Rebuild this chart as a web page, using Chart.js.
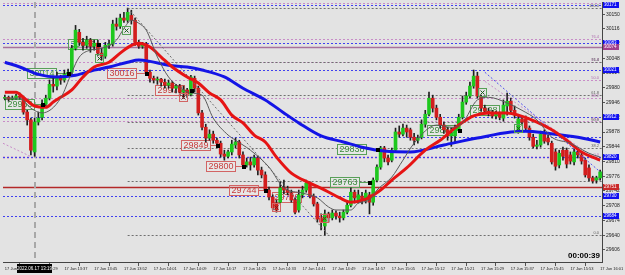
<!DOCTYPE html>
<html>
<head>
<meta charset="utf-8">
<script src="https://cdn.jsdelivr.net/npm/chart.js@4.4.1/dist/chart.umd.min.js"></script>
<style>
  html, body { margin: 0; padding: 0; background: #e3e3e3; }
  #wrap { width: 625px; height: 275px; }
</style>
</head>
<body>
<div id="wrap"><canvas id="c" width="625" height="275"></canvas></div>
<script>
// 1-minute candles
const open = [
  29956, 29958, 29954, 29956, 29961, 29958, 29924, 29906, 29832, 29901,
  29912, 29942, 29956, 29988, 29984, 30005, 29998, 30011, 30016, 30071,
  30108, 30085, 30078, 30090, 30076, 30083, 30060, 30053, 30078, 30081,
  30127, 30122, 30141, 30136, 30147, 30136, 30085, 30076, 30081, 30016,
  30002, 29998, 30000, 29993, 29986, 29991, 29979, 29984, 29970, 29975,
  29965, 30002, 29979, 29922, 29889, 29864, 29873, 29859, 29852, 29827,
  29822, 29832, 29848, 29855, 29825, 29802, 29809, 29802, 29818, 29790,
  29779, 29744, 29728, 29714, 29716, 29749, 29744, 29737, 29721, 29698,
  29733, 29744, 29760, 29730, 29712, 29680, 29661, 29689, 29680, 29691,
  29684, 29680, 29693, 29709, 29739, 29721, 29730, 29721, 29733, 29716,
  29767, 29797, 29841, 29818, 29813, 29836, 29878, 29873, 29887, 29883,
  29866, 29859, 29866, 29896, 29919, 29956, 29933, 29912, 29894, 29883,
  29869, 29869, 29883, 29912, 29947, 29961, 29984, 30007, 29958, 29933,
  29926, 29922, 29915, 29919, 29910, 29938, 29949, 29928, 29883, 29908,
  29908, 29887, 29866, 29845, 29848, 29873, 29864, 29852, 29832, 29802,
  29836, 29836, 29825, 29809, 29832, 29825, 29813, 29795, 29772, 29767,
  29772
];
const high = [
  29963, 29961, 29961, 29965, 29968, 29961, 29928, 29910, 29910, 29924,
  29952, 29963, 29998, 30002, 30016, 30009, 30021, 30023, 30078, 30124,
  30115, 30094, 30099, 30094, 30090, 30090, 30071, 30085, 30090, 30136,
  30141, 30150, 30154, 30164, 30159, 30141, 30090, 30085, 30085, 30021,
  30007, 30005, 30002, 30000, 29998, 29995, 29988, 29988, 29984, 29979,
  30009, 30007, 29984, 29928, 29896, 29883, 29880, 29864, 29857, 29836,
  29836, 29859, 29864, 29859, 29832, 29818, 29820, 29825, 29822, 29797,
  29786, 29751, 29733, 29721, 29763, 29767, 29753, 29744, 29726, 29744,
  29753, 29767, 29763, 29735, 29716, 29689, 29698, 29693, 29698, 29696,
  29693, 29698, 29716, 29749, 29744, 29744, 29739, 29744, 29739, 29772,
  29802, 29845, 29845, 29825, 29841, 29887, 29892, 29896, 29894, 29887,
  29875, 29871, 29906, 29928, 29970, 29963, 29940, 29919, 29901, 29889,
  29887, 29894, 29919, 29961, 29970, 29993, 30021, 30016, 29963, 29940,
  29933, 29928, 29926, 29924, 29952, 29968, 29956, 29938, 29915, 29912,
  29915, 29892, 29873, 29859, 29880, 29883, 29871, 29857, 29839, 29836,
  29843, 29841, 29832, 29839, 29839, 29832, 29818, 29802, 29776, 29776,
  29790
];
const low = [
  29952, 29949, 29952, 29954, 29954, 29919, 29894, 29825, 29822, 29894,
  29906, 29935, 29952, 29970, 29975, 29988, 29993, 30007, 30009, 30067,
  30078, 30067, 30071, 30062, 30067, 30055, 30044, 30048, 30071, 30076,
  30113, 30117, 30131, 30131, 30127, 30078, 30071, 30071, 30011, 29993,
  29991, 29988, 29984, 29979, 29979, 29970, 29968, 29961, 29956, 29958,
  29961, 29970, 29917, 29883, 29855, 29859, 29852, 29845, 29820, 29813,
  29818, 29825, 29841, 29818, 29795, 29797, 29790, 29797, 29779, 29772,
  29739, 29721, 29698, 29693, 29712, 29735, 29733, 29716, 29689, 29693,
  29726, 29739, 29726, 29707, 29670, 29652, 29640, 29670, 29675, 29677,
  29670, 29675, 29689, 29705, 29714, 29714, 29712, 29714, 29689, 29709,
  29763, 29792, 29809, 29802, 29809, 29832, 29866, 29869, 29866, 29859,
  29848, 29852, 29862, 29889, 29915, 29924, 29906, 29887, 29875, 29859,
  29845, 29852, 29878, 29908, 29942, 29956, 29979, 29956, 29926, 29922,
  29915, 29910, 29908, 29906, 29903, 29917, 29924, 29910, 29875, 29894,
  29883, 29859, 29841, 29839, 29843, 29852, 29848, 29804, 29790, 29795,
  29813, 29795, 29804, 29802, 29818, 29804, 29774, 29765, 29760, 29760,
  29767
];
const close = [
  29958, 29954, 29956, 29961, 29958, 29924, 29906, 29836, 29901, 29910,
  29942, 29956, 29988, 29984, 30005, 29998, 30011, 30016, 30071, 30113,
  30085, 30078, 30090, 30076, 30083, 30060, 30053, 30078, 30081, 30127,
  30122, 30141, 30136, 30154, 30136, 30085, 30076, 30081, 30016, 30002,
  29998, 30000, 29993, 29986, 29991, 29979, 29984, 29970, 29975, 29965,
  30005, 29979, 29922, 29889, 29864, 29873, 29859, 29852, 29827, 29822,
  29832, 29850, 29855, 29825, 29802, 29809, 29802, 29818, 29790, 29779,
  29744, 29728, 29703, 29698, 29749, 29744, 29739, 29721, 29693, 29733,
  29744, 29760, 29730, 29712, 29677, 29670, 29689, 29680, 29691, 29684,
  29680, 29693, 29709, 29739, 29726, 29733, 29721, 29737, 29716, 29767,
  29797, 29841, 29818, 29809, 29836, 29878, 29873, 29887, 29878, 29866,
  29859, 29864, 29896, 29919, 29956, 29933, 29912, 29894, 29883, 29869,
  29875, 29887, 29912, 29947, 29961, 29984, 30007, 29961, 29933, 29926,
  29922, 29915, 29919, 29912, 29940, 29949, 29928, 29917, 29908, 29901,
  29887, 29866, 29845, 29848, 29873, 29857, 29855, 29809, 29799, 29829,
  29822, 29804, 29811, 29832, 29825, 29811, 29779, 29772, 29765, 29772,
  29786
];

// moving averages as [bar, price]
const blueMA = [
  [0, 30039], [4, 30028], [9, 30011], [14, 30005], [19, 30009], [24, 30021],
  [28, 30028], [33, 30039], [36, 30044], [39, 30041], [44, 30032], [49, 30028],
  [53, 30021], [59, 30005], [64, 29979], [70, 29952], [75, 29922], [79, 29899],
  [85, 29869], [91, 29855], [96, 29843], [102, 29834], [109, 29832], [118, 29848],
  [127, 29864], [136, 29878], [140, 29880], [146, 29875], [154, 29866], [160, 29855]
];
const redMA = [
  [0, 29970], [3, 29970], [5, 29958], [8, 29938], [11, 29935], [13, 29947],
  [15, 29958], [18, 29975], [21, 30005], [24, 30028], [28, 30039], [31, 30060],
  [34, 30078], [36, 30083], [39, 30074], [42, 30051], [45, 30028], [49, 30005],
  [52, 29991], [55, 29968], [58, 29952], [61, 29917], [64, 29899], [67, 29871],
  [70, 29855], [73, 29820], [77, 29783], [82, 29760], [86, 29744], [90, 29726],
  [93, 29716], [97, 29723], [101, 29744], [104, 29767], [108, 29795], [113, 29836],
  [117, 29859], [122, 29894], [126, 29915], [130, 29922], [135, 29922], [138, 29917],
  [143, 29901], [147, 29883], [151, 29859], [155, 29832], [160, 29813]
];
const grayMA = [
  [0, 29956], [4, 29956], [7, 29933], [10, 29922], [15, 29956], [18, 30016],
  [20, 30051], [23, 30067], [26, 30071], [30, 30090], [32, 30117], [34, 30136],
  [36, 30129], [38, 30113], [41, 30051], [44, 30005], [48, 29975], [50, 29968],
  [53, 29963], [56, 29910], [60, 29871], [62, 29859], [66, 29836], [71, 29797],
  [75, 29749], [80, 29737], [84, 29726], [87, 29705], [89, 29698], [93, 29698],
  [95, 29714], [98, 29721], [100, 29744], [104, 29774], [107, 29813], [110, 29852],
  [116, 29894], [120, 29889], [123, 29899], [127, 29952], [130, 29958], [135, 29945],
  [139, 29928], [143, 29906], [147, 29866], [152, 29852], [157, 29829], [160, 29820]
];

// trend lines [bar, price]
const grayTrend = [[33, 30164], [87, 29640]];
const blueTrend = [[129, 30016], [160, 29786]];
const pinkTrendLeft = [[-0.5, 29852], [7.3, 29820]];
const pinkTrendRight = [[129, 29995], [160, 29809]];

// levels
const blueLevels = [30171, 30083, 30021, 29912, 29866, 29820, 29730, 29684];
const purpleLevel = 30074;
const redLevel = 29751;
const grayFibStart = 33;
const grayFib = [[0, 29640], [23.6, 29764], [38.2, 29840], [50, 29902], [61.8, 29964], [76.4, 30040], [100, 30164]];
const pinkFib = [[0, 29820], [23.6, 29904], [38.2, 29956], [50, 29998], [61.8, 30040], [76.4, 30092], [100, 30176]];

// axis
const yTicks = [29606, 29640, 29674, 29708, 29742, 29776, 29810, 29844, 29878, 29912, 29946, 29980, 30014, 30048, 30082, 30116, 30150];
const tickBars = [0, 8, 16, 24, 32, 40, 48, 56, 64, 72, 80, 88, 96, 104, 112, 120, 128, 136, 144, 152, 160];
const tickLabels = [
  "17 Jun 13:21", "17 Jun 13:29", "17 Jun 13:37", "17 Jun 13:45", "17 Jun 13:52", "17 Jun 14:01",
  "17 Jun 14:09", "17 Jun 14:17", "17 Jun 14:25", "17 Jun 14:33", "17 Jun 14:41", "17 Jun 14:49",
  "17 Jun 14:57", "17 Jun 15:05", "17 Jun 15:12", "17 Jun 15:21", "17 Jun 15:29", "17 Jun 15:37",
  "17 Jun 15:45", "17 Jun 15:53", "17 Jun 16:01"
];
const crossBar = 8.1;
const crossLabel = "2022.06.17 13:19";
const countdown = "00:00:39";

// trade tags on the chart
const tags = [
  { bar: 0, price: 29942, text: "29953", side: "buy", dot: 10 },
  { bar: 6, price: 30014, text: "30014", side: "buy", dot: 17 },
  { bar: 17, price: 30081, text: "30083", side: "buy", dot: 25 },
  { bar: 27.5, price: 30015, text: "30016", side: "sell", dot: 38 },
  { bar: 40.4, price: 29975, text: "29975", side: "sell", dot: 50 },
  { bar: 47.3, price: 29849, text: "29849", side: "sell", dot: 57 },
  { bar: 54, price: 29800, text: "29800", side: "sell", dot: 64 },
  { bar: 60.3, price: 29744, text: "29744", side: "sell", dot: 70 },
  { bar: 71.8, price: 29728, text: "29729", side: "sell" },
  { bar: 87.4, price: 29763, text: "29763", side: "buy", dot: 98 },
  { bar: 89.3, price: 29838, text: "29838", side: "buy", dot: 100 },
  { bar: 113.5, price: 29882, text: "29882", side: "buy", dot: 122 },
  { bar: 125, price: 29928, text: "29928", side: "buy" }
];
const crosses = [
  { bar: 32.6, price: 30113, side: "buy" },
  { bar: 25.3, price: 30048, side: "buy" },
  { bar: 128.3, price: 29970, side: "buy" },
  { bar: 138, price: 29887, side: "buy" },
  { bar: 72.9, price: 29705, side: "sell" },
  { bar: 47.9, price: 29959, side: "sell" },
  { bar: 85.8, price: 29680, side: "sell" }
];
const axisTags = [
  { price: 30171, color: "#1010f0" }, { price: 30083, color: "#1010f0" },
  { price: 30074, color: "#a0408c" }, { price: 30021, color: "#1010f0" },
  { price: 29912, color: "#1010f0" }, { price: 29820, color: "#1010f0" },
  { price: 29751, color: "#c82828" }, { price: 29730, color: "#1010f0" },
  { price: 29684, color: "#1010f0" }
];

const tagStyle = {
  buy: { line: "#58a058", text: "#3c8c3c" },
  sell: { line: "#d26464", text: "#c83c3c" }
};

const bars = open.map((_, i) => i);
const toPoints = arr => arr.map(([x, y]) => ({ x, y }));
const tickText = {};
tickBars.forEach((b, i) => { tickText[b] = tickLabels[i]; });

const overlay = {
  id: "overlay",
  beforeDatasetsDraw(chart) {
    const { ctx, chartArea: a, scales: { x, y } } = chart;
    const X = v => x.getPixelForValue(v);
    const Y = v => Math.round(y.getPixelForValue(v)) + 0.5;
    ctx.save();
    ctx.beginPath();
    ctx.rect(a.left, a.top, a.width, a.height);
    ctx.clip();

    const hline = (p, color, w, dash, from) => {
      ctx.beginPath();
      ctx.strokeStyle = color;
      ctx.lineWidth = w;
      ctx.setLineDash(dash);
      ctx.moveTo(from === undefined ? a.left : X(from), Y(p));
      ctx.lineTo(a.right, Y(p));
      ctx.stroke();
    };
    pinkFib.forEach(([r, p]) => hline(p, "#c88cc8", r === 0 ? 2 : 1, [2, 2]));
    grayFib.forEach(([r, p]) => hline(p, "#707070", 1, [2, 2], grayFibStart));
    blueLevels.forEach(p => hline(p, "#4040f0", 1, [2, 2]));
    hline(purpleLevel, "#a8709c", 1.5, []);
    hline(redLevel, "#b42828", 1.5, []);

    // crosshair
    ctx.setLineDash([6, 4]);
    ctx.strokeStyle = "#a8a8a8";
    ctx.lineWidth = 2;
    ctx.beginPath();
    ctx.moveTo(Math.round(X(crossBar)), a.top);
    ctx.lineTo(Math.round(X(crossBar)), a.bottom);
    ctx.stroke();
    ctx.setLineDash([]);

    // fib ratio labels
    ctx.font = '4px "Liberation Sans"';
    ctx.textAlign = "right";
    ctx.textBaseline = "bottom";
    pinkFib.forEach(([r, p]) => {
      ctx.fillStyle = "#b070b0";
      ctx.fillText(r.toFixed(1), a.right - 3, Y(p) - 1);
    });
    grayFib.forEach(([r, p]) => {
      ctx.fillStyle = "#606060";
      ctx.fillText(r.toFixed(1), a.right - 3, Y(p) - 1);
    });

    // trade tags
    ctx.font = '9px "Liberation Sans"';
    tags.forEach(t => {
      const st = tagStyle[t.side];
      const w = Math.round(ctx.measureText(t.text).width) + 4, h = 10;
      const x0 = Math.round(X(t.bar)) + 0.5;
      const yc = y.getPixelForValue(t.price);
      const y0 = Math.round(yc - h / 2) + 0.5;
      ctx.lineWidth = 1;
      ctx.strokeStyle = st.line;
      if (t.dot !== undefined) {
        ctx.beginPath();
        ctx.moveTo(x0 + w, Math.round(yc) + 0.5);
        ctx.lineTo(X(t.dot), Math.round(yc) + 0.5);
        ctx.stroke();
      }
      ctx.fillStyle = "rgba(255,255,255,0.15)";
      ctx.fillRect(x0, y0, w, h);
      ctx.strokeRect(x0, y0, w, h);
      ctx.fillStyle = st.text;
      ctx.textAlign = "left";
      ctx.textBaseline = "middle";
      ctx.fillText(t.text, x0 + 2, y0 + h / 2 + 0.5);
    });
    ctx.restore();
  },
  afterDatasetsDraw(chart) {
    const { ctx, chartArea: a, scales: { x, y } } = chart;
    ctx.save();
    ctx.beginPath();
    ctx.rect(a.left, a.top, a.width, a.height);
    ctx.clip();
    ctx.fillStyle = "#000";
    tags.forEach(t => {
      if (t.dot === undefined) return;
      ctx.fillRect(Math.round(x.getPixelForValue(t.dot)) - 1, Math.round(y.getPixelForValue(t.price)) - 1, 4, 4);
    });
    crosses.forEach(c => {
      const st = tagStyle[c.side];
      const cx = Math.round(x.getPixelForValue(c.bar)) + 0.5;
      const cy = Math.round(y.getPixelForValue(c.price)) + 0.5;
      ctx.strokeStyle = st.line;
      ctx.lineWidth = 1;
      ctx.strokeRect(cx - 4, cy - 4, 8, 8);
      ctx.strokeStyle = "#1e5a1e";
      if (c.side === "sell") ctx.strokeStyle = "#7a1e1e";
      ctx.beginPath();
      ctx.moveTo(cx - 2, cy - 2); ctx.lineTo(cx + 2, cy + 2);
      ctx.moveTo(cx + 2, cy - 2); ctx.lineTo(cx - 2, cy + 2);
      ctx.stroke();
    });
    ctx.restore();
  },
  afterDraw(chart) {
    const { ctx, chartArea: a, scales: { x, y } } = chart;
    ctx.save();
    // price tags on the axis
    ctx.font = '4.5px "Liberation Sans"';
    ctx.textAlign = "left";
    ctx.textBaseline = "middle";
    axisTags.forEach(t => {
      const yy = Math.round(y.getPixelForValue(t.price));
      ctx.fillStyle = t.color;
      ctx.fillRect(a.right + 1, yy - 3, 16, 6);
      ctx.fillStyle = "#fff";
      ctx.fillText(String(t.price), a.right + 2, yy);
    });
    // crosshair time box
    const cx = Math.round(x.getPixelForValue(crossBar));
    ctx.fillStyle = "#000";
    ctx.fillRect(cx - 18, a.bottom + 2, 35, 9);
    ctx.fillStyle = "#fff";
    ctx.textAlign = "center";
    ctx.font = '4.5px "Liberation Sans"';
    ctx.fillText(crossLabel, cx - 0.5, a.bottom + 6.5);
    // bar countdown
    ctx.font = 'bold 8px "Liberation Sans"';
    ctx.fillStyle = "#000";
    ctx.textAlign = "right";
    ctx.textBaseline = "alphabetic";
    ctx.fillText(countdown, a.right - 2, a.bottom - 4);
    ctx.restore();
  }
};

new Chart(document.getElementById("c"), {
  type: "bar",
  data: {
    datasets: [
      {
        type: "line", data: toPoints(grayMA), borderColor: "#5a5a5a", borderWidth: 1,
        pointRadius: 0, tension: 0.4, cubicInterpolationMode: "monotone", order: 0
      },
      {
        type: "line", data: toPoints(redMA), borderColor: "#e61414", borderWidth: 3,
        pointRadius: 0, tension: 0.4, cubicInterpolationMode: "monotone", order: 0
      },
      {
        type: "line", data: toPoints(blueMA), borderColor: "#1414e6", borderWidth: 3,
        pointRadius: 0, tension: 0.4, cubicInterpolationMode: "monotone", order: 0
      },
      {
        type: "line", data: toPoints(grayTrend), borderColor: "#6e6e6e", borderWidth: 1,
        borderDash: [2, 2], pointRadius: 0, order: 0
      },
      {
        type: "line", data: toPoints(blueTrend), borderColor: "#5050f0", borderWidth: 1,
        borderDash: [2, 2], pointRadius: 0, order: 0
      },
      {
        type: "line", data: toPoints(pinkTrendLeft), borderColor: "#c88cc8", borderWidth: 1,
        borderDash: [2, 2], pointRadius: 0, order: 0
      },
      {
        type: "line", data: toPoints(pinkTrendRight), borderColor: "#c88cc8", borderWidth: 1,
        borderDash: [2, 2], pointRadius: 0, order: 0
      },
      {
        data: bars.map(i => ({ x: i, y: [open[i], close[i]] })),
        backgroundColor: bars.map(i => close[i] >= open[i] ? "#1ec81e" : "#d21e1e"),
        barThickness: 3, grouped: false, order: 1
      },
      {
        data: bars.map(i => ({ x: i, y: [low[i], high[i]] })),
        backgroundColor: "#202020",
        barThickness: 1, grouped: false, order: 2
      }
    ]
  },
  options: {
    responsive: false,
    animation: false,
    devicePixelRatio: 1,
    layout: { padding: { left: 3, top: 2, right: 0, bottom: 0 } },
    plugins: { legend: { display: false }, tooltip: { enabled: false } },
    scales: {
      x: {
        type: "linear", min: -0.5, max: 160.5, offset: false,
        afterBuildTicks: s => { s.ticks = tickBars.map(v => ({ value: v })); },
        afterFit: s => { s.height = 13; s.paddingLeft = 0; s.paddingRight = 0; },
        grid: { drawOnChartArea: false, tickLength: 4, color: "#555" },
        border: { color: "#444" },
        ticks: {
          align: "start", maxRotation: 0, autoSkip: false, padding: 0,
          color: "#222", font: { size: 4, family: "Liberation Sans" },
          callback: v => tickText[v] || ""
        }
      },
      y: {
        position: "right", min: 29578, max: 30178,
        afterBuildTicks: s => { s.ticks = yTicks.map(v => ({ value: v })); },
        afterFit: s => { s.width = 23; s.paddingTop = 0; s.paddingBottom = 0; },
        grid: { drawOnChartArea: false, tickLength: 3, color: "#555" },
        border: { color: "#444" },
        ticks: {
          padding: 1, color: "#222", font: { size: 5, family: "Liberation Sans" },
          callback: v => String(v)
        }
      }
    }
  },
  plugins: [overlay]
});
</script>
</body>
</html>
